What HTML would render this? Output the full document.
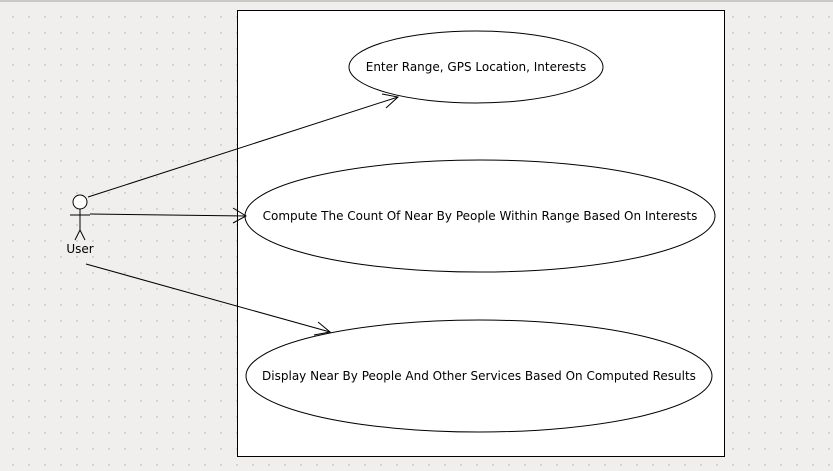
<!DOCTYPE html>
<html><head><style>
html,body{margin:0;padding:0;}
body{width:833px;height:471px;background:#f0efed;overflow:hidden;}
</style></head><body>
<svg width="833" height="471" xmlns="http://www.w3.org/2000/svg" style="position:absolute;left:0;top:0">
<defs>
<pattern id="g" x="12" y="0" width="16" height="16" patternUnits="userSpaceOnUse">
<rect x="0" y="0" width="2" height="2" fill="#d4d4d4"/>
</pattern>
</defs>
<rect width="833" height="471" fill="#f0efed"/>
<rect width="833" height="471" fill="url(#g)"/>
<rect x="0" y="0" width="833" height="2" fill="#c8c8c4"/>
<rect x="237.5" y="10.5" width="487" height="446" fill="#fff" stroke="#000" stroke-width="1"/>
<g fill="none" stroke="#000" stroke-width="1">
<ellipse cx="476" cy="67" rx="127" ry="36"/>
<ellipse cx="480" cy="216" rx="235" ry="56"/>
<ellipse cx="479" cy="376" rx="233" ry="56"/>
<circle cx="80" cy="202" r="7" fill="#fff"/>
<line x1="80" y1="209" x2="80" y2="230"/>
<line x1="70" y1="215" x2="90" y2="215"/>
<line x1="80" y1="230" x2="75" y2="240"/>
<line x1="80" y1="230" x2="85" y2="240"/>
<line x1="88" y1="197" x2="398" y2="97"/>
<polyline points="382,94 398,97 386,108"/>
<line x1="90" y1="214" x2="246" y2="216"/>
<polyline points="233,208 246,216 233,223"/>
<line x1="86" y1="264" x2="330" y2="332"/>
<polyline points="318,322 330,332 314,335"/>
</g>
<g font-family="DejaVu Sans, Liberation Sans, sans-serif" font-size="12" fill="#000" text-anchor="middle">
<text x="476" y="71">Enter Range, GPS Location, Interests</text>
<text x="480" y="220">Compute The Count Of Near By People Within Range Based On Interests</text>
<text x="479" y="380">Display Near By People And Other Services Based On Computed Results</text>
<text x="80" y="253">User</text>
</g>
</svg>
</body></html>
